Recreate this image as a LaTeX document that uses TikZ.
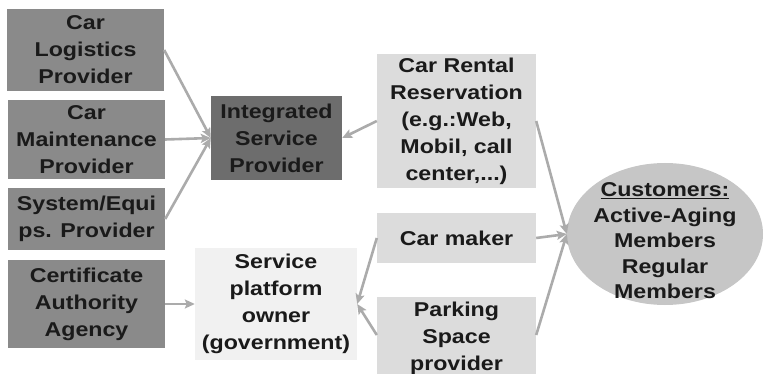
\documentclass[tikz,border=0pt]{standalone}
\usepackage{fontspec}
\setmainfont[FakeStretch=1.16]{Liberation Sans}
\usetikzlibrary{arrows.meta,shapes.geometric}
\definecolor{darkbox}{HTML}{8A8A8A}
\definecolor{isbox}{HTML}{6D6D6D}
\definecolor{lightbox}{HTML}{DCDCDC}
\definecolor{paleBox}{HTML}{F1F1F1}
\definecolor{custfill}{HTML}{C6C6C6}
\definecolor{linkgray}{HTML}{ABABAB}
\definecolor{ink}{HTML}{1A1A1A}
\tikzset{
  x=1pt, y=-1pt,
  basebox/.style={rectangle, inner sep=0pt, align=center, text=ink,
    font=\fontsize{20}{27}\selectfont\bfseries},
  actor/.style={basebox, fill=darkbox},
  hub/.style={basebox, fill=isbox},
  channel/.style={basebox, fill=lightbox},
  owner/.style={basebox, fill=paleBox},
  crowd/.style={ellipse, inner sep=0pt, fill=custfill, align=center, text=ink,
    font=\fontsize{20}{25.5}\selectfont\bfseries},
  link/.style={draw=linkgray, line width=2.6pt,
    -{Stealth[length=10pt,width=9pt,inset=2pt]}},
}
\begin{document}
\begin{tikzpicture}
\useasboundingbox (0,0) rectangle (766,374);
% suppliers on the left
\node[actor, minimum width=157pt, minimum height=82pt] (log) at (85.5,50) {Car\\Logistics\\Provider};
\node[actor, minimum width=157pt, minimum height=79pt] (mnt) at (86.5,139.5) {Car\\Maintenance\\Provider};
\node[actor, minimum width=157pt, minimum height=62pt] (sys) at (86.5,219) {System/Equi\\ps. Provider};
\node[actor, minimum width=157pt, minimum height=88pt] (cert) at (86.5,304) {Certificate\\Authority\\Agency};
% middle column
\node[hub, minimum width=131pt, minimum height=84pt] (isp) at (276.5,138) {Integrated\\Service\\Provider};
\node[owner, minimum width=162pt, minimum height=112pt] (spo) at (276,304) {Service\\platform\\owner\\(government)};
% channels
\node[channel, minimum width=159pt, minimum height=134pt] (rent) at (456.5,121) {Car Rental\\Reservation\\(e.g.:Web,\\Mobil, call\\center,...)};
\node[channel, minimum width=159pt, minimum height=50pt] (maker) at (456.5,238) {Car maker};
\node[channel, minimum width=159pt, minimum height=82pt] (park) at (456.5,338) {Parking\\Space\\provider};
% customers
\node[crowd, minimum width=196pt, minimum height=142pt] (cust) at (665,234) {};
\node[crowd, fill=none] (custtext) at (665,241) {\underline{Customers:}\\Active-Aging\\Members\\Regular\\Members};
% relations
\draw[link] (log.east) -- (isp.west);
\draw[link] (mnt.east) -- (isp.west);
\draw[link] (sys.east |- 0,219) -- (isp.west);
\draw[link] (rent.west) -- (isp.east);
\draw[link] (cert.east) -- (spo.west);
\draw[link] (maker.west) -- (spo.east);
\draw[link] (park.west |- 0,335) -- (spo.east);
\draw[link] (rent.east) -- (cust.west);
\draw[link] (maker.east) -- (cust.west);
\draw[link] (park.east |- 0,335) -- (cust.west);
\end{tikzpicture}
\end{document}
